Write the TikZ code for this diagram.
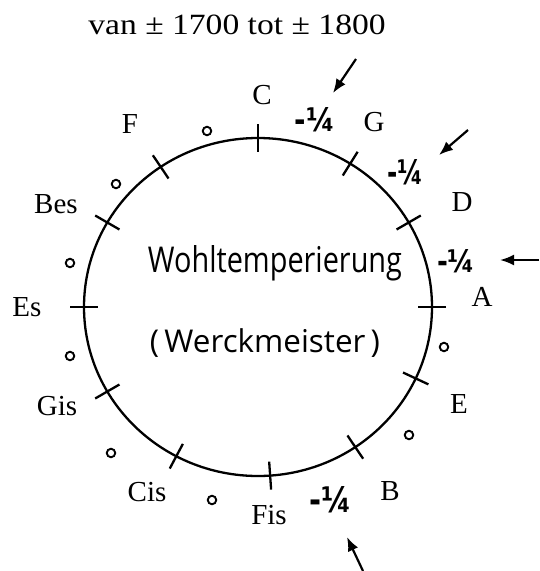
\documentclass[tikz,border=0pt]{standalone}
\usepackage{fontspec}
\setmainfont{Liberation Serif}
\newfontfamily\hw{Open Sans}
\newfontfamily\djv{DejaVu Sans}
\usetikzlibrary{arrows.meta,calc}
\begin{document}
\begin{tikzpicture}[x=1pt,y=-1pt,
  lbl/.style={font=\fontsize{29}{31}\selectfont, inner sep=0pt},
  tickmark/.style={line width=2.3pt},
  ring/.style={line width=2.3pt},
  dot/.style={circle, draw, line width=1.9pt, minimum size=8.5pt, inner sep=0pt},
  qmark/.style={inner sep=0pt},
  arr/.style={line width=2.2pt, -{Latex[length=14pt,width=11pt]}},
]
\useasboundingbox (0,0) rectangle (539,571);
\coordinate (O) at (258,307);
\draw[ring] (O) ellipse [x radius=174, y radius=169];
\foreach \a/\n in {90/C,58/G,30/D,0/A,-25/E,-56/B,-86/Fis,-118/Cis,-150/Gis,180/Es,150/Bes,124/F}{
  \coordinate (t\n) at ({258+174*cos(\a)},{307-169*sin(\a)});
  \draw[tickmark] ($(t\n)+({14*cos(\a)},{-14*sin(\a)})$) -- ($(t\n)-({14*cos(\a)},{-14*sin(\a)})$);
}
% title
\node[font=\fontsize{28}{30}\selectfont, inner sep=0pt] (title) at (237,25) {\scalebox{1.2}[1.05]{van ± 1700 tot ± 1800}};
% note labels
\node[lbl] (C) at (262,95) {C};
\node[lbl] (G) at (374,122) {G};
\node[lbl] (D) at (462,202) {D};
\node[lbl] (A) at (482,297) {A};
\node[lbl] (E) at (459,404) {E};
\node[lbl] (B) at (390,491) {B};
\node[lbl] (Fis) at (269,515) {Fis};
\node[lbl] (Cis) at (147,492) {Cis};
\node[lbl] (Gis) at (57,406) {Gis};
\node[lbl] (Es) at (27,307) {Es};
\node[lbl] (Bes) at (56,204) {Bes};
\node[lbl] (F) at (130,124) {F};
% small circles
\node[dot] (o1) at (207,131) {};
\node[dot] (o2) at (116,184) {};
\node[dot] (o3) at (70,263) {};
\node[dot] (o4) at (70,356) {};
\node[dot] (o5) at (111,453) {};
\node[dot] (o6) at (212,500) {};
\node[dot] (o7) at (409,435) {};
\node[dot] (o8) at (444,347) {};
% -1/4 marks
\node[qmark] (q1) at (315,120) {\resizebox{40pt}{24pt}{\djv\bfseries -¼}};
\node[qmark] (q2) at (405,172) {\resizebox{36pt}{25pt}{\djv\bfseries -¼}};
\node[qmark] (q3) at (456,261) {\resizebox{38pt}{23pt}{\djv\bfseries -¼}};
\node[qmark] (q4) at (330,500) {\resizebox{42pt}{26pt}{\djv\bfseries -¼}};
% arrows
\coordinate (a1s) at (356,59);  \coordinate (a1e) at (333,93);
\coordinate (a2s) at (468,130); \coordinate (a2e) at (439,155);
\coordinate (a3s) at (539,260); \coordinate (a3e) at (500,260);
\coordinate (a4s) at (363,571); \coordinate (a4e) at (347,537);
\draw[arr] (a1s) -- (a1e);
\draw[arr] (a2s) -- (a2e);
\draw[arr] (a3s) -- (a3e);
\draw[arr] (a4s) -- (a4e);
% handwritten text
\node[anchor=base, inner sep=0pt] (w1) at (275,272) {\resizebox{254pt}{27pt}{\hw Wohltemperierung}};
\node[anchor=base, inner sep=0pt] (w2) at (265,352) {\resizebox{230pt}{!}{\hw (\,Werckmeister\,)}};
\end{tikzpicture}
\end{document}
